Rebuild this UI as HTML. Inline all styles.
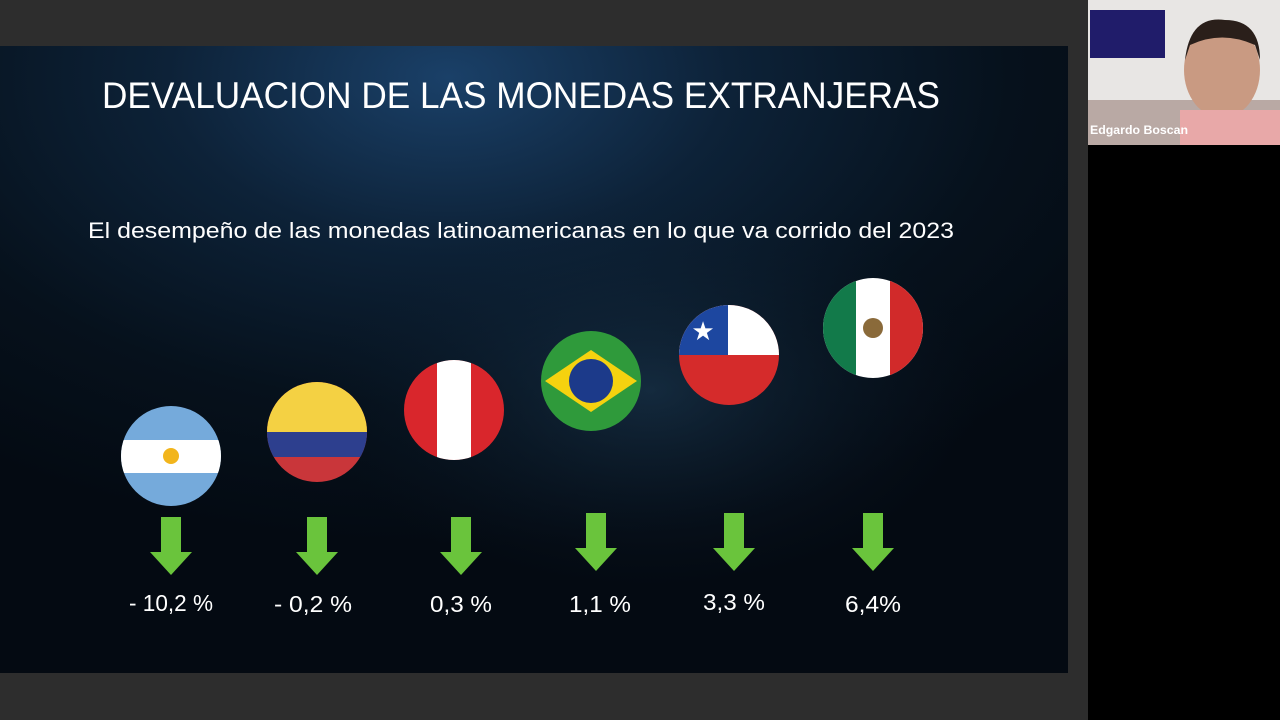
<!DOCTYPE html>
<html><head><meta charset="utf-8"><style>
body{margin:0;width:1280px;height:720px;background:#2d2d2d;overflow:hidden;font-family:"Liberation Sans",sans-serif}
</style></head><body>
<svg width="1280" height="720" xmlns="http://www.w3.org/2000/svg" style="position:absolute;left:0;top:0">
<defs>
<radialGradient id="bg" cx="0.42" cy="0.05" r="0.75">
<stop offset="0" stop-color="#1a4068"/><stop offset="0.35" stop-color="#0d2238"/><stop offset="0.7" stop-color="#06111c"/><stop offset="1" stop-color="#040a12"/>
</radialGradient>
<radialGradient id="hand" cx="0.5" cy="0.5" r="0.5">
<stop offset="0" stop-color="#1d3b55" stop-opacity="0.6"/><stop offset="1" stop-color="#0b1a2a" stop-opacity="0"/>
</radialGradient>
<clipPath id="c1"><circle cx="171" cy="456" r="50"/></clipPath>
<clipPath id="c2"><circle cx="317" cy="432" r="50"/></clipPath>
<clipPath id="c3"><circle cx="454" cy="410" r="50"/></clipPath>
<clipPath id="c4"><circle cx="591" cy="381" r="50"/></clipPath>
<clipPath id="c5"><circle cx="729" cy="355" r="50"/></clipPath>
<clipPath id="c6"><circle cx="873" cy="328" r="50"/></clipPath>
<g id="arr"><rect x="-10" y="0" width="20" height="36" fill="#6ac43c"/><polygon points="-21,35 21,35 0,58" fill="#6ac43c"/></g>
</defs>
<rect x="0" y="46" width="1068" height="627" fill="url(#bg)"/>
<ellipse cx="650" cy="390" rx="330" ry="200" fill="url(#hand)"/>
<rect x="1088" y="0" width="192" height="720" fill="#000"/>
<rect x="1088" y="0" width="192" height="145" fill="#e8e6e4"/>
<rect x="1090" y="10" width="75" height="48" fill="#201c6a"/>
<rect x="1088" y="100" width="192" height="45" fill="#b9a9a4"/>
<ellipse cx="1222" cy="70" rx="38" ry="48" fill="#c99a82"/>
<path d="M1185 60 Q1190 15 1225 20 Q1260 20 1260 60 L1255 45 Q1222 30 1190 45Z" fill="#2a1f1a"/>
<rect x="1180" y="110" width="100" height="35" fill="#e8a8a8"/>
<text x="1090" y="134" font-size="12" font-weight="bold" fill="#fff" textLength="98" lengthAdjust="spacingAndGlyphs">Edgardo Boscan</text>
<text x="102" y="108" font-size="37" fill="#fff" textLength="838" lengthAdjust="spacingAndGlyphs">DEVALUACION DE LAS MONEDAS EXTRANJERAS</text>
<text x="88" y="238" font-size="22" fill="#fff" textLength="866" lengthAdjust="spacingAndGlyphs">El desempeño de las monedas latinoamericanas en lo que va corrido del 2023</text>
<g clip-path="url(#c1)"><rect x="120" y="405" width="102" height="102" fill="#75aadb"/><rect x="120" y="440" width="102" height="33" fill="#fff"/><circle cx="171" cy="456" r="8" fill="#f2b51c"/></g>
<g clip-path="url(#c2)"><rect x="266" y="381" width="102" height="102" fill="#c9363a"/><rect x="266" y="381" width="102" height="51" fill="#f4d143"/><rect x="266" y="432" width="102" height="25" fill="#2d3f8e"/></g>
<g clip-path="url(#c3)"><rect x="403" y="359" width="102" height="102" fill="#d9262c"/><rect x="437" y="359" width="34" height="102" fill="#fff"/></g>
<g clip-path="url(#c4)"><rect x="540" y="330" width="102" height="102" fill="#2f9a3b"/><polygon points="545,381 591,350 637,381 591,412" fill="#f5d20f"/><circle cx="591" cy="381" r="22" fill="#1c3a8a"/></g>
<g clip-path="url(#c5)"><rect x="678" y="304" width="102" height="102" fill="#d52b2b"/><rect x="678" y="304" width="102" height="51" fill="#fff"/><rect x="678" y="304" width="50" height="51" fill="#1d47a0"/><text x="703" y="340" font-size="26" fill="#fff" text-anchor="middle">★</text></g>
<g clip-path="url(#c6)"><rect x="822" y="277" width="102" height="102" fill="#fff"/><rect x="822" y="277" width="34" height="102" fill="#127a4a"/><rect x="890" y="277" width="34" height="102" fill="#d12a2a"/><circle cx="873" cy="328" r="10" fill="#8a6a3a"/></g>
<use href="#arr" x="171" y="517"/><use href="#arr" x="317" y="517"/><use href="#arr" x="461" y="517"/>
<use href="#arr" x="596" y="513"/><use href="#arr" x="734" y="513"/><use href="#arr" x="873" y="513"/>
<g font-size="23" fill="#fff" text-anchor="middle">
<text x="171" y="611" textLength="84" lengthAdjust="spacingAndGlyphs">- 10,2 %</text>
<text x="313" y="612" textLength="78" lengthAdjust="spacingAndGlyphs">- 0,2 %</text>
<text x="461" y="612" textLength="62" lengthAdjust="spacingAndGlyphs">0,3 %</text>
<text x="600" y="612" textLength="62" lengthAdjust="spacingAndGlyphs">1,1 %</text>
<text x="734" y="610" textLength="62" lengthAdjust="spacingAndGlyphs">3,3 %</text>
<text x="873" y="612" textLength="56" lengthAdjust="spacingAndGlyphs">6,4%</text>
</g>
</svg>
</body></html>
